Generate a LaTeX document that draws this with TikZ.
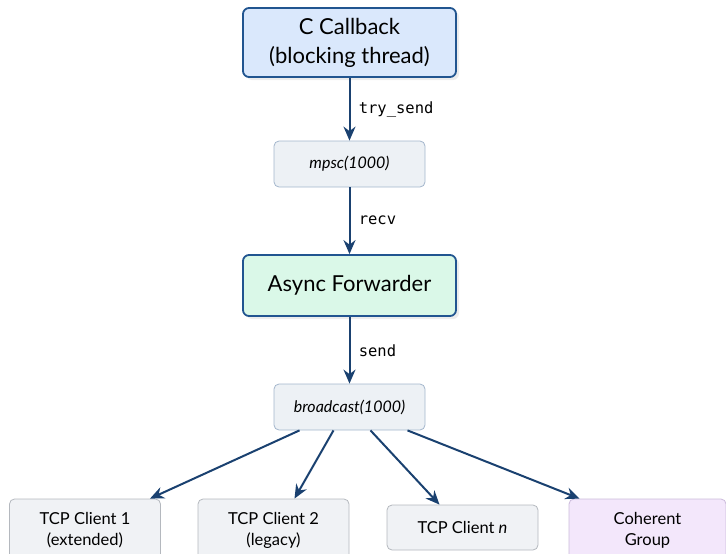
\documentclass[tikz,border=0pt]{standalone}
\usepackage{fontspec}
\setmainfont{Lato}
\setmonofont{DejaVu Sans Mono}
\usetikzlibrary{arrows.meta,shadows}
\definecolor{edgeblue}{HTML}{1A4170}
\definecolor{boxblue}{HTML}{215590}
\definecolor{fillblue}{HTML}{DAE8FC}
\definecolor{fillgreen}{HTML}{DAF8E8}
\definecolor{fillq}{HTML}{EDF1F5}
\definecolor{lineq}{HTML}{A3B6CC}
\definecolor{fillc}{HTML}{F0F2F5}
\definecolor{linec}{HTML}{B4B8BE}
\definecolor{fillp}{HTML}{F3E7FB}
\definecolor{linep}{HTML}{CBBBDB}
\tikzset{
  mainbox/.style={draw=boxblue, line width=1.8pt, rounded corners=6pt, minimum width=213pt, align=center,
    drop shadow={shadow xshift=3pt, shadow yshift=-3pt, opacity=0.15}},
  queuebox/.style={draw=lineq, line width=0.8pt, fill=fillq, rounded corners=5pt, minimum width=151pt, minimum height=46pt, font=\fontsize{16}{18}\selectfont\itshape},
  clientbox/.style={draw=linec, line width=0.8pt, fill=fillc, rounded corners=5pt, minimum width=151pt, align=center, font=\fontsize{16.5}{21}\selectfont},
  flow/.style={draw=edgeblue, line width=2pt, -{Stealth[length=14pt,width=12pt]}},
  elabel/.style={font=\ttfamily\fontsize{15.5}{17}\selectfont, text=black, anchor=west}
}
\begin{document}
\begin{tikzpicture}[x=1pt,y=-1pt]
\useasboundingbox (0,0) rectangle (726,554);
\node[mainbox, fill=fillblue, minimum height=69pt, font=\fontsize{22}{29}\selectfont] (cb) at (349.5,42.5) {C Callback\\(blocking thread)};
\node[queuebox] (mpsc) at (349.5,164) {mpsc(1000)};
\node[mainbox, fill=fillgreen, minimum height=61pt, font=\fontsize{22}{26}\selectfont] (af) at (349.5,285.5) {Async Forwarder};
\node[queuebox] (bc) at (349.5,407) {broadcast(1000)};
\node[clientbox, minimum height=62pt] (c1) at (85,530) {TCP Client 1\\(extended)};
\node[clientbox, minimum height=62pt] (c2) at (273.5,530) {TCP Client 2\\(legacy)};
\node[clientbox, minimum height=45pt] (cn) at (462.5,527.5) {TCP Client \textit{n}};
\node[clientbox, draw=linep, fill=fillp, minimum width=157pt, minimum height=62pt] (cg) at (647.5,530) {Coherent\\Group};
\draw[flow] (cb) -- node[elabel, xshift=5pt]{try\_send} (mpsc);
\draw[flow] (mpsc) -- node[elabel, xshift=5pt]{recv} (af);
\draw[flow] (af) -- node[elabel, xshift=5pt]{send} (bc);
\coordinate (s1) at ([xshift=-50pt]bc.south);
\coordinate (s2) at ([xshift=-16pt]bc.south);
\coordinate (s3) at ([xshift=21pt]bc.south);
\coordinate (s4) at ([xshift=58pt]bc.south);
\coordinate (e1) at ([xshift=65pt]c1.north);
\coordinate (e2) at ([xshift=21pt]c2.north);
\coordinate (e3) at ([xshift=-23pt]cn.north);
\coordinate (e4) at ([xshift=-68pt]cg.north);
\draw[flow] (s1) -- (e1);
\draw[flow] (s2) -- (e2);
\draw[flow] (s3) -- (e3);
\draw[flow] (s4) -- (e4);
\end{tikzpicture}
\end{document}
